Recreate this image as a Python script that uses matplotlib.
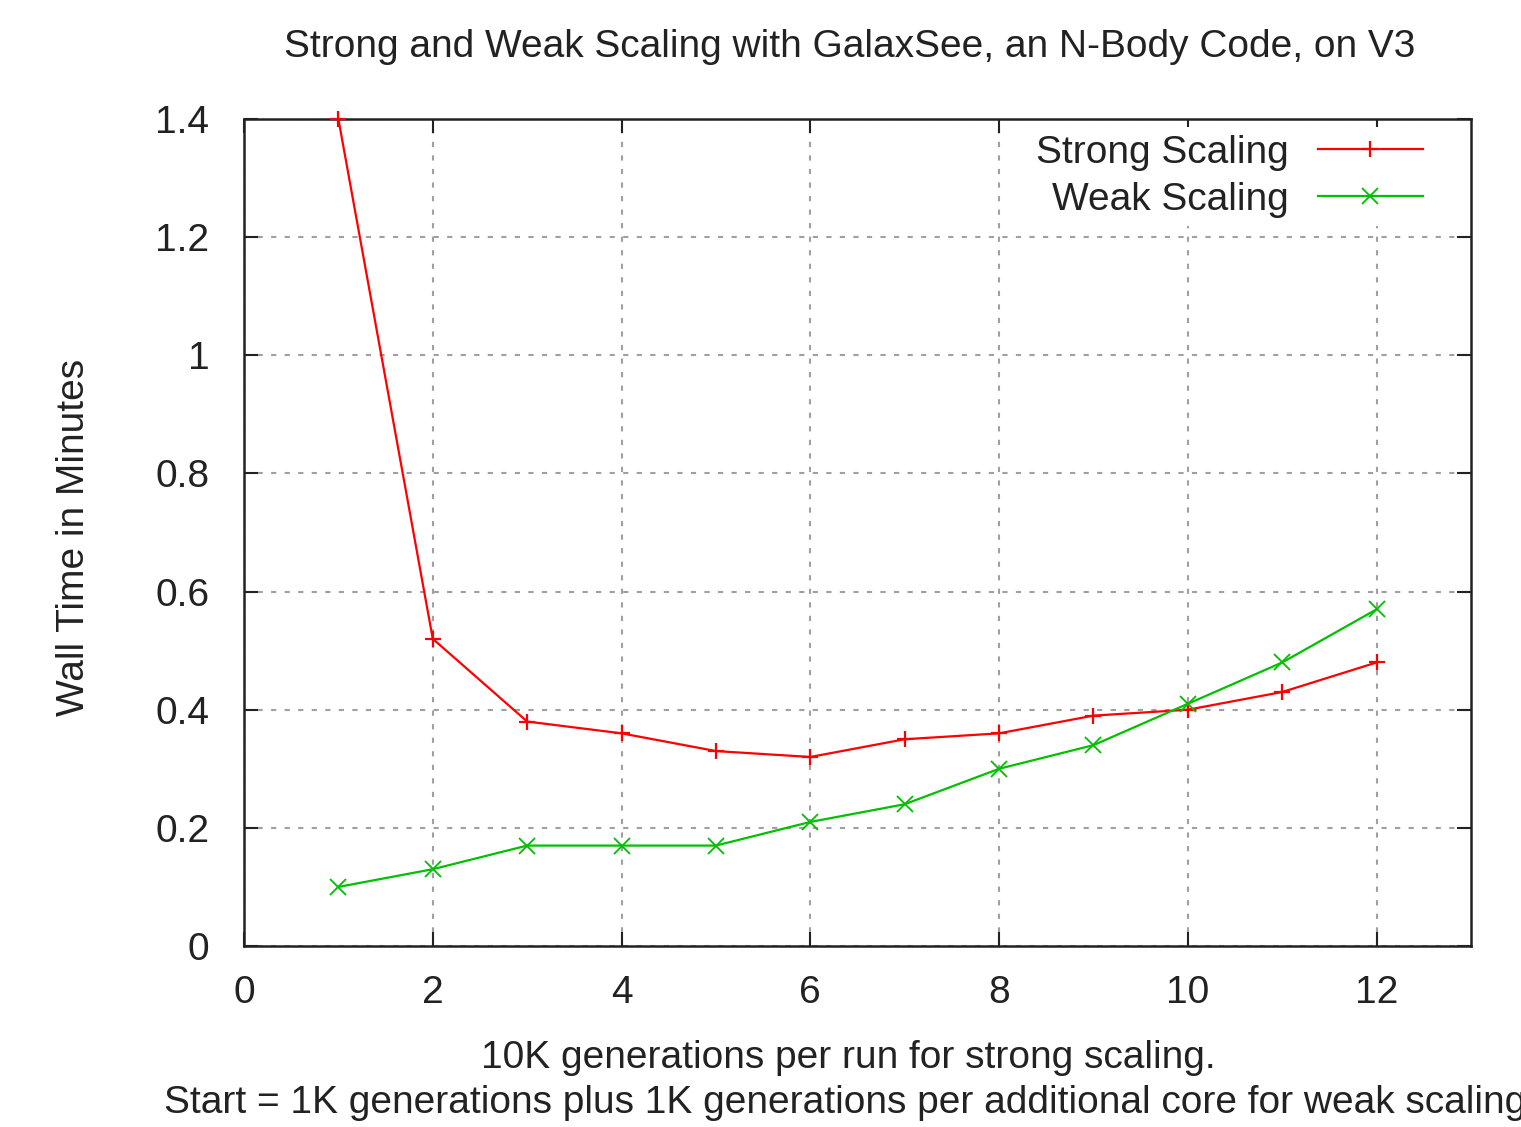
import matplotlib
matplotlib.use('Agg')
import matplotlib.pyplot as plt

plt.rcParams['font.family'] = ['Liberation Sans', 'DejaVu Sans']

# data
cores = [1, 2, 3, 4, 5, 6, 7, 8, 9, 10, 11, 12]
strong = [1.40, 0.52, 0.38, 0.36, 0.33, 0.32, 0.35, 0.36, 0.39, 0.40, 0.43, 0.48]
weak = [0.10, 0.13, 0.17, 0.17, 0.17, 0.21, 0.24, 0.30, 0.34, 0.41, 0.48, 0.57]

xticks = [0, 2, 4, 6, 8, 10, 12]
yticks = [0, 0.2, 0.4, 0.6, 0.8, 1.0, 1.2, 1.4]
ytick_labels = ['0', '0.2', '0.4', '0.6', '0.8', '1', '1.2', '1.4']

fs = 28
txt = '#222222'

fig = plt.figure(figsize=(15.21, 11.27), dpi=100)
ax = fig.add_axes([244 / 1521, 1 - 946 / 1127, (1471 - 244) / 1521, (946 - 119) / 1127])

ax.plot(cores, strong, color='#ff0000', lw=1.6, marker='+', ms=12, mew=1.6,
        label='Strong Scaling', clip_on=False, zorder=3)
ax.plot(cores, weak, color='#00c000', lw=1.6, marker='x', ms=11, mew=1.3,
        label='Weak Scaling', clip_on=False, zorder=3)

ax.set_xlim(0, 13)
ax.set_ylim(0, 1.4)
ax.set_xticks(xticks)
ax.set_yticks(yticks)
ax.set_yticklabels(ytick_labels)
ax.tick_params(direction='in', length=10, width=1.5, top=True, right=True,
               labelsize=fs, colors=txt)
ax.tick_params(axis='y', pad=25)
ax.tick_params(axis='x', pad=21)
for s in ax.spines.values():
    s.set_linewidth(1.8)
    s.set_color(txt)

ax.grid(True, color='#a0a0a0', linestyle=(0, (2.5, 4)), lw=1.5)
ax.set_axisbelow(True)

# legend: text on the left, sample on the right, white box over the grid
leg = ax.legend(loc='upper right', bbox_to_anchor=(0.967, 0.99), markerfirst=False,
                fontsize=fs, frameon=True, handlelength=2.7, borderaxespad=0,
                labelspacing=0.28, handletextpad=0.75, borderpad=0.2)
leg.get_frame().set_facecolor('white')
leg.get_frame().set_edgecolor('none')
leg.get_frame().set_alpha(1)
for t in leg.get_texts():
    t.set_color(txt)

fig.text(850 / 1521, 1 - 47 / 1127, 'Strong and Weak Scaling with GalaxSee, an N-Body Code, on V3',
         ha='center', va='center', fontsize=fs, color=txt)
fig.text(74 / 1521, 1 - 537 / 1127, 'Wall Time in Minutes', rotation=90,
         ha='center', va='center', fontsize=fs, color=txt)
fig.text(848 / 1521, 1 - 1058 / 1127, '10K generations per run for strong scaling.',
         ha='center', va='center', fontsize=fs, color=txt)
# second line runs past the right edge, as in the original
fig.text(850 / 1521, 1 - 1103 / 1127,
         'Start = 1K generations plus 1K generations per additional core for weak scaling.',
         ha='center', va='center', fontsize=fs, color=txt)

fig.savefig('out.png', dpi=100)
